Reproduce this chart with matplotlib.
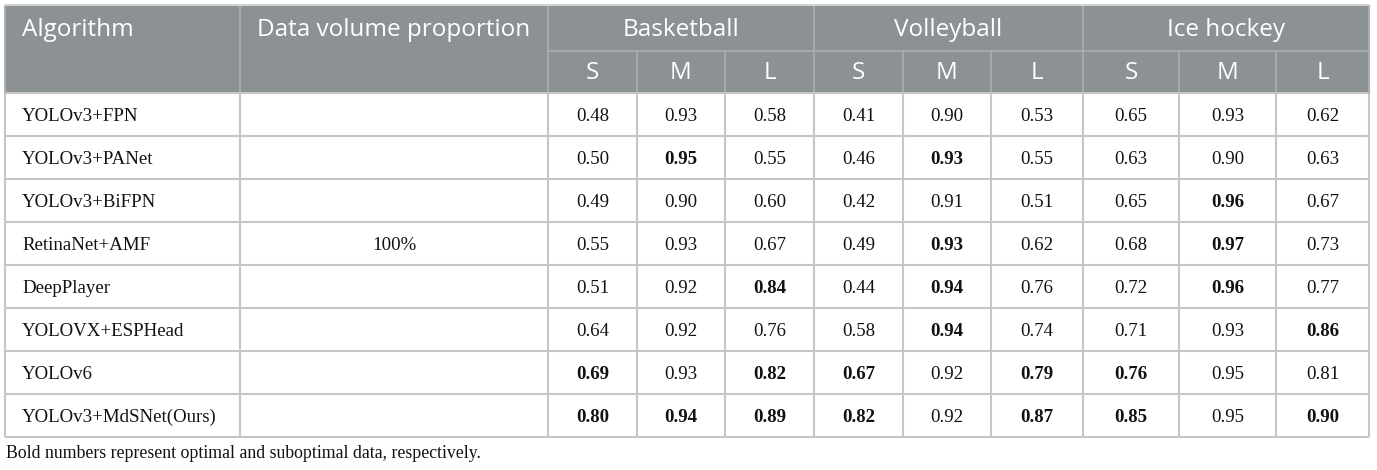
import matplotlib.pyplot as plt
from matplotlib.patches import Rectangle

# table content
algorithms = ["YOLOv3+FPN", "YOLOv3+PANet", "YOLOv3+BiFPN", "RetinaNet+AMF",
              "DeepPlayer", "YOLOVX+ESPHead", "YOLOv6", "YOLOv3+MdSNet(Ours)"]
proportion = "100%"
sports = ["Basketball", "Volleyball", "Ice hockey"]
sizes = ["S", "M", "L"]

values = [
    ["0.48", "0.93", "0.58", "0.41", "0.90", "0.53", "0.65", "0.93", "0.62"],
    ["0.50", "0.95", "0.55", "0.46", "0.93", "0.55", "0.63", "0.90", "0.63"],
    ["0.49", "0.90", "0.60", "0.42", "0.91", "0.51", "0.65", "0.96", "0.67"],
    ["0.55", "0.93", "0.67", "0.49", "0.93", "0.62", "0.68", "0.97", "0.73"],
    ["0.51", "0.92", "0.84", "0.44", "0.94", "0.76", "0.72", "0.96", "0.77"],
    ["0.64", "0.92", "0.76", "0.58", "0.94", "0.74", "0.71", "0.93", "0.86"],
    ["0.69", "0.93", "0.82", "0.67", "0.92", "0.79", "0.76", "0.95", "0.81"],
    ["0.80", "0.94", "0.89", "0.82", "0.92", "0.87", "0.85", "0.95", "0.90"],
]
bold = [
    [0, 0, 0, 0, 0, 0, 0, 0, 0],
    [0, 1, 0, 0, 1, 0, 0, 0, 0],
    [0, 0, 0, 0, 0, 0, 0, 1, 0],
    [0, 0, 0, 0, 1, 0, 0, 1, 0],
    [0, 0, 1, 0, 1, 0, 0, 1, 0],
    [0, 0, 0, 0, 1, 0, 0, 0, 1],
    [1, 0, 1, 1, 0, 1, 1, 0, 0],
    [1, 1, 1, 1, 0, 1, 1, 0, 1],
]
footnote = "Bold numbers represent optimal and suboptimal data, respectively."

# layout in pixels
col_x = [5, 240, 548, 637, 725, 814, 903, 991, 1083, 1179, 1276, 1369]
top, mid, head_bot, row_h = 5, 51, 93, 43
n_rows = len(algorithms)
bottom = head_bot + n_rows * row_h

HEAD_BG = "#8c9194"
HEAD_LINE = "#aab0b2"
BODY_LINE = "#c6c6c6"
HEAD_FONT = "Open Sans"
BODY_FONT = "Liberation Serif"
TXT = "#111111"

fig = plt.figure(figsize=(13.77, 4.70), dpi=100)
ax = fig.add_axes([0, 0, 1, 1])
ax.set_xlim(0, 1377)
ax.set_ylim(470, 0)
ax.axis("off")

# header background
ax.add_patch(Rectangle((col_x[0], top), col_x[-1] - col_x[0], head_bot - top,
                       facecolor=HEAD_BG, edgecolor="none"))

# header lines
full = {1, 2, 5, 8}
for i, x in enumerate(col_x[1:-1], start=1):
    y0 = top if i in full else mid
    ax.vlines(x, y0, head_bot, color=HEAD_LINE, lw=1.2)
ax.hlines(mid, col_x[2], col_x[-1], color=HEAD_LINE, lw=1.2)

# body grid
for x in col_x:
    ax.vlines(x, head_bot, bottom, color=BODY_LINE, lw=1.5)
for i in range(n_rows + 1):
    y = head_bot + i * row_h
    ax.hlines(y, col_x[0], col_x[-1], color=BODY_LINE, lw=1.5)
ax.vlines([col_x[0], col_x[-1]], top, head_bot, color=HEAD_LINE, lw=1.5)
ax.hlines(top, col_x[0], col_x[-1], color="#d0d3d4", lw=1.5)

# header text
hy = (top + mid) / 2 + 2
hs = 17.5
ax.text(22, hy, "Algorithm", ha="left", va="center", color="white",
        fontsize=hs, family=HEAD_FONT)
ax.text(col_x[1] + 17, hy, "Data volume proportion", ha="left", va="center",
        color="white", fontsize=hs, family=HEAD_FONT)
for k, sport in enumerate(sports):
    x0, x1 = col_x[2 + 3 * k], col_x[5 + 3 * k]
    ax.text((x0 + x1) / 2, hy, sport, ha="center", va="center", color="white",
            fontsize=hs, family=HEAD_FONT)
    for j, s in enumerate(sizes):
        c = 2 + 3 * k + j
        ax.text((col_x[c] + col_x[c + 1]) / 2, (mid + head_bot) / 2 + 1, s,
                ha="center", va="center", color="white", fontsize=hs,
                family=HEAD_FONT)

# body text
bs = 13.6
for i, name in enumerate(algorithms):
    cy = head_bot + (i + 0.5) * row_h
    ax.text(22, cy, name, ha="left", va="center_baseline", color=TXT,
            fontsize=bs, family=BODY_FONT)
    for j, v in enumerate(values[i]):
        c = 2 + j
        ax.text((col_x[c] + col_x[c + 1]) / 2, cy, v, ha="center",
                va="center_baseline", color=TXT, fontsize=bs, family=BODY_FONT,
                fontweight="bold" if bold[i][j] else "normal")

ax.text((col_x[1] + col_x[2]) / 2, head_bot + 3.5 * row_h, proportion,
        ha="center", va="center_baseline", color=TXT, fontsize=bs, family=BODY_FONT)

ax.text(col_x[0] + 1, 451, footnote, ha="left", va="center_baseline", color=TXT,
        fontsize=12.8, family=BODY_FONT)

fig.savefig("out.png", dpi=100)
plt.close(fig)
